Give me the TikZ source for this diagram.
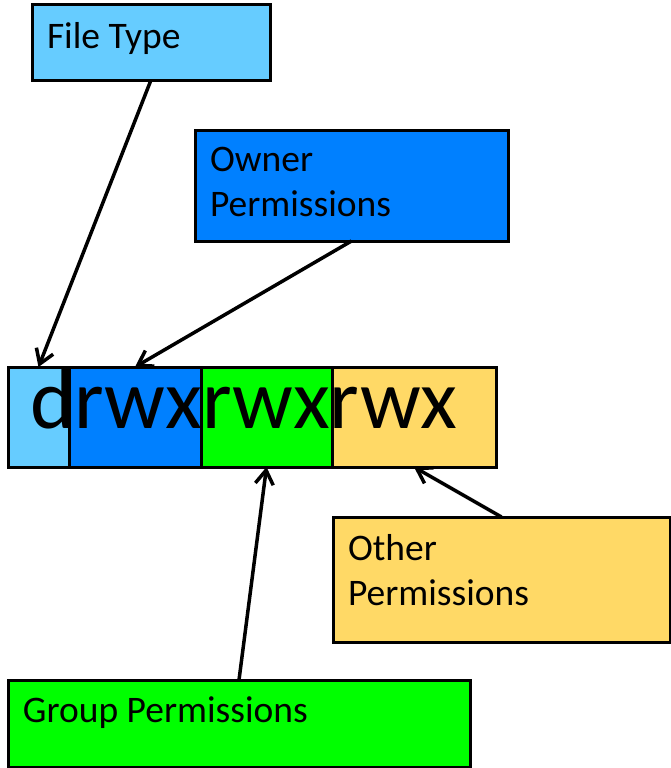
\documentclass[tikz,border=0pt]{standalone}
\usepackage{fontspec}
\setmainfont{Carlito}
\usepackage{tikz}
\usetikzlibrary{arrows.meta,positioning}

\definecolor{typeblue}{HTML}{66CCFF}
\definecolor{ownerblue}{HTML}{0080FF}
\definecolor{groupgreen}{HTML}{00FF00}
\definecolor{otheryellow}{HTML}{FFD966}

\begin{document}
\begin{tikzpicture}[x=1pt,y=-1pt,->,>={Straight Barb[length=14pt,width=18pt]},
                    line width=3pt,node distance=0pt]
  \tikzstyle{every node}=[outer sep=0pt]
  \tikzstyle{box}=[draw,rectangle,anchor=north west,inner sep=0pt]
  \tikzstyle{seg}=[draw,rectangle,inner sep=0pt,minimum height=100pt]
  \tikzstyle{boxtext}=[anchor=north west,align=left,inner xsep=15pt,inner ysep=17pt,
                       font=\fontsize{37.5}{45}\selectfont]

  \useasboundingbox (0,0) rectangle (671,768);

  % permission string
  \node[seg,fill=typeblue,minimum width=61pt,anchor=north west] (dseg) at (8,367) {};
  \node[seg,fill=ownerblue,minimum width=132pt] (useg) [right=of dseg] {};
  \node[seg,fill=groupgreen,minimum width=131pt] (gseg) [right=of useg] {};
  \node[seg,fill=otheryellow,minimum width=164pt] (oseg) [right=of gseg] {};
  \node[anchor=base west,inner sep=0pt,font=\fontsize{85}{90}\selectfont] (perms) at (30,428) {drwxrwxrwx};

  % labels
  \node[box,fill=typeblue,minimum width=238pt,minimum height=75pt,
        label={[boxtext]north west:File Type}] (ftype) at (32,5) {};
  \node[box,fill=ownerblue,minimum width=313pt,minimum height=111pt,
        label={[boxtext]north west:Owner\\Permissions}] (owner) at (195,130) {};
  \node[box,fill=otheryellow,minimum width=337pt,minimum height=125pt,
        label={[boxtext]north west:Other\\Permissions}] (other) at (333,517) {};
  \node[box,fill=groupgreen,minimum width=462pt,minimum height=87pt,
        label={[boxtext]north west:Group Permissions}] (group) at (8,680) {};

  \path[line width=3.5pt]
        (ftype.south) edge (dseg.north)
        (owner.south) edge (useg.north)
        (group.north) edge (gseg.south)
        (other.north) edge (oseg.south);
\end{tikzpicture}
\end{document}
